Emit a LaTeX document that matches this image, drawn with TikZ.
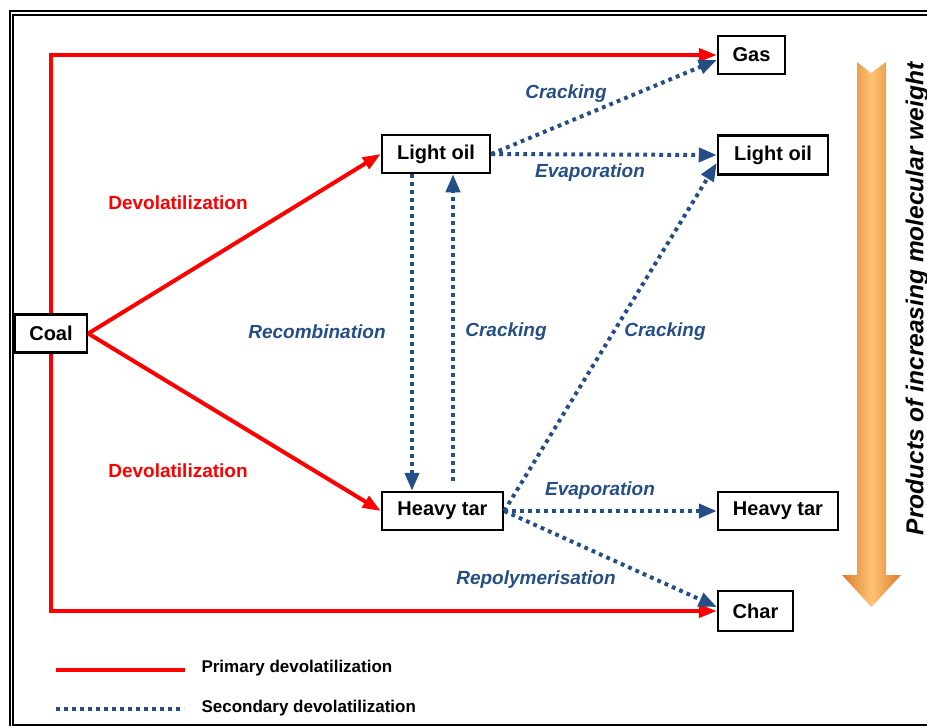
\documentclass[tikz,border=0pt]{standalone}
\usepackage{fontspec}
\setmainfont{Liberation Sans}
\usetikzlibrary{arrows.meta,calc}
\definecolor{myred}{RGB}{255,0,0}
\definecolor{myblue}{RGB}{37,78,135}
\definecolor{orlight}{RGB}{255,195,115}
\definecolor{ordark}{RGB}{215,125,45}
\tikzset{
  box/.style={draw=black,line width=2.5pt,fill=white,minimum height=38pt,inner sep=0pt,
    font=\fontsize{20}{24}\selectfont\bfseries},
  prim/.style={draw=myred,line width=4pt,-{Triangle[length=18pt,width=13pt]}},
  sec/.style={draw=myblue,line width=4pt,dash pattern=on 3.8pt off 4.2pt,
    -{Triangle[length=18pt,width=14pt]}},
  redlbl/.style={text=myred,font=\fontsize{19}{23}\selectfont\bfseries},
  bluelbl/.style={text=myblue,font=\fontsize{19}{23}\selectfont\bfseries\itshape},
  leglbl/.style={text=black,anchor=west,font=\fontsize{17}{20}\selectfont\bfseries},
}
\begin{document}
\begin{tikzpicture}[x=1pt,y=-1pt]
\useasboundingbox (0,0) rectangle (927,726);
\clip (0,0) rectangle (927,726);
% frame
\draw[line width=2pt] (10,740) -- (10,11) -- (940,11);
\draw[line width=2pt] (940,15) -- (13,15) -- (13,725) -- (940,725);
% nodes
\node[box,minimum width=72pt] (coal) at (51,333.5) {Coal};
\node[box,minimum width=108pt] (lo) at (436,154) {Light oil};
\node[box,minimum width=121pt] (ht) at (442.5,511) {Heavy tar};
\node[box,minimum width=67pt] (gas) at (751.5,55) {Gas};
\node[box,minimum width=110pt,minimum height=39pt] (lo2) at (773,155) {Light oil};
\node[box,minimum width=120pt] (ht2) at (778,511) {Heavy tar};
\node[box,minimum width=75pt,minimum height=40pt] (char) at (755.5,611) {Char};
% primary
\draw[prim] (coal.north) |- (gas.west);
\draw[prim] (coal.south) |- (char.west);
\draw[prim] (coal.east) -- (lo.west);
\draw[prim] (coal.east) -- (ht.west);
% secondary
\draw[sec] (lo.east) -- ([yshift=-5pt]gas.west);
\draw[sec] (lo.east) -- (lo2.west);
\draw[sec] (ht.east) -- ([yshift=-8pt]lo2.west);
\draw[sec] (ht.east) -- (ht2.west);
\draw[sec] (ht.east) -- ([yshift=4pt]char.west);
\draw[sec] ([xshift=-24pt]lo.south) -- ([xshift=-30.5pt]ht.north);
\draw[sec,shorten <=10pt] ([xshift=10.5pt]ht.north) -- ([xshift=17pt]lo.south);
% labels
\node[redlbl] (d1) at (178,203) {Devolatilization};
\node[redlbl] (d2) at (178,471) {Devolatilization};
\node[bluelbl] (c1) at (566,94) {Cracking};
\node[bluelbl] (e1) at (590,173) {Evaporation};
\node[bluelbl] (rc) at (317,332) {Recombination};
\node[bluelbl] (c2) at (506,332) {Cracking};
\node[bluelbl] (c3) at (665,332) {Cracking};
\node[bluelbl] (e2) at (600,491) {Evaporation};
\node[bluelbl] (rp) at (536,580) {Repolymerisation};
% orange arrow
\shade[left color=ordark,right color=ordark,middle color=orlight]
  (857,62) -- (871,73) -- (886,62) -- (886,575) -- (901,575) -- (871.5,607)
  -- (842,575) -- (857,575) -- cycle;
\node[rotate=90,font=\fontsize{24.5}{28}\selectfont\bfseries\itshape] (pw) at (917,299)
  {Products of increasing molecular weight};
% legend
\coordinate (l1a) at (56,670); \coordinate (l1b) at (185,670);
\coordinate (l2a) at (56,709); \coordinate (l2b) at (184,709);
\draw[draw=myred,line width=4pt] (l1a) -- (l1b);
\draw[draw=myblue,line width=4pt,dash pattern=on 3.8pt off 4.2pt] (l2a) -- (l2b);
\node[leglbl] (lt1) at (198,668) {Primary devolatilization};
\node[leglbl] (lt2) at (198,708) {Secondary devolatilization};
\end{tikzpicture}
\end{document}
